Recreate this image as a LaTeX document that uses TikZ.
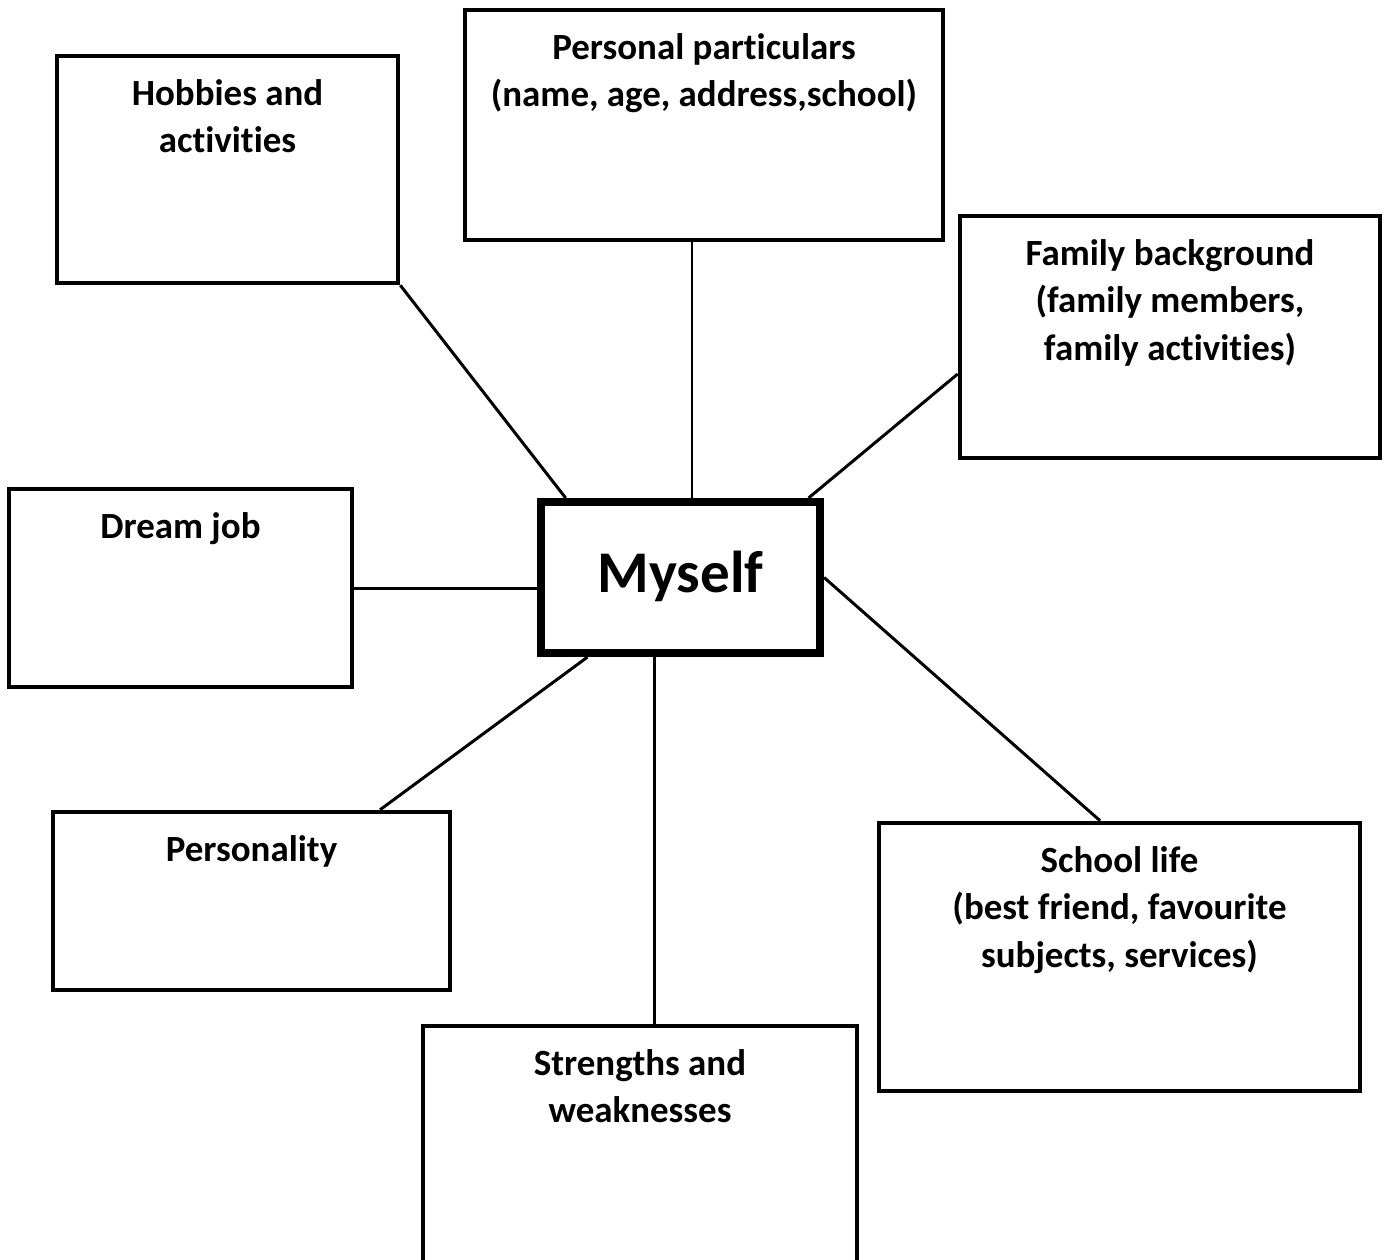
\documentclass[tikz,border=0pt]{standalone}
\usepackage{fontspec}
\setmainfont[Ligatures={NoCommon}]{Carlito}
\usetikzlibrary{calc}

\begin{document}
\begin{tikzpicture}[x=0.01cm, y=-0.01cm,
    topic/.style={draw, line width=1.25pt, inner sep=0pt},
    lbl/.style={anchor=north, align=center, yshift=-0.13cm,
      font=\fontsize{10.5pt}{13.6pt}\selectfont\bfseries},
    link/.style={line width=0.85pt}]
  \useasboundingbox (0,0) rectangle (1389,1259);
  \clip (0,0) rectangle (1389,1259);

  \node[topic, line width=2.3pt, minimum width=2.79cm, minimum height=1.51cm,
    font=\fontsize{16.8pt}{20pt}\selectfont\bfseries] (myself) at (680.5,577.5) {\raisebox{0.11cm}{Myself}};

  \node[topic, minimum width=3.41cm, minimum height=2.27cm,
    label={[lbl]north:{Hobbies and\\activities}}] (hobbies) at (227.5,169.5) {};
  \node[topic, minimum width=4.78cm, minimum height=2.30cm,
    label={[lbl]north:{Personal particulars\\(name, age, address,school)}}] (personal) at (704,125) {};
  \node[topic, minimum width=4.20cm, minimum height=2.42cm,
    label={[lbl]north:{Family background\\(family members,\\family activities)}}] (family) at (1170,337) {};
  \node[topic, minimum width=3.43cm, minimum height=1.98cm,
    label={[lbl]north:{Dream job}}] (dreamjob) at (180.5,588) {};
  \node[topic, minimum width=3.97cm, minimum height=1.78cm,
    label={[lbl]north:{Personality}}] (personality) at (251.5,901) {};
  \node[topic, minimum width=4.81cm, minimum height=2.68cm,
    label={[lbl]north:{School life\\(best friend, favourite\\subjects, services)}}] (school) at (1119.5,957) {};
  \node[topic, minimum width=4.34cm, minimum height=2.74cm,
    label={[lbl]north:{Strengths and\\weaknesses}}] (strengths) at (640,1163) {};

  \coordinate (top1) at ($(myself.north west)!0.1!(myself.north east)$);
  \coordinate (top2) at ($(myself.north west)!0.54!(myself.north east)$);
  \coordinate (top3) at ($(myself.north west)!0.946!(myself.north east)$);
  \coordinate (bot1) at ($(myself.south west)!0.176!(myself.south east)$);
  \coordinate (bot2) at ($(myself.south west)!0.41!(myself.south east)$);

  \draw[link] (hobbies.south east) -- (top1);
  \draw[link] (top2) -- (top2 |- personal.south);
  \draw[link] ($(family.north west)!0.65!(family.south west)$) -- (top3);
  \draw[link] (dreamjob.east) -- (dreamjob.east -| myself.west);
  \draw[link] (myself.east) -- ($(school.north west)!0.46!(school.north east)$);
  \draw[link] ($(personality.north west)!0.82!(personality.north east)$) -- (bot1);
  \draw[link] (bot2) -- (bot2 |- strengths.north);
\end{tikzpicture}
\end{document}
